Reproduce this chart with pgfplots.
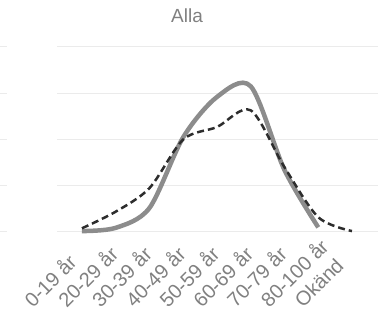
\documentclass[border=0pt]{standalone}
\usepackage{pgfplots}
\pgfplotsset{compat=1.18}
\usepackage{fontspec}
\setmainfont{Liberation Sans}
\definecolor{gridc}{RGB}{235,235,235}
\definecolor{txtc}{RGB}{128,128,128}
\definecolor{solidc}{RGB}{140,140,140}
\definecolor{dashc}{RGB}{45,45,45}
\begin{document}
\begin{tikzpicture}[x=1pt,y=1pt]
\begin{axis}[
  scale only axis, width=321pt, height=185pt,
  xmin=-0.74, xmax=8.77, ymin=0, ymax=4,
  axis line style={draw=none},
  tick style={draw=none},
  ytick={0,1,2,3,4}, yticklabels={},
  ymajorgrids, grid style={gridc, line width=1pt},
  xtick={0,...,8},
  xticklabels={0-19 år,20-29 år,30-39 år,40-49 år,50-59 år,60-69 år,70-79 år,80-100 år,Okänd},
  xticklabel style={xshift=-49pt, yshift=-77pt, rotate=45, anchor=base west, font=\fontsize{20}{20}\selectfont, text=txtc, inner sep=0pt},
  clip=false,
]
\addplot[solidc, line width=4.5pt, smooth, tension=0.5] coordinates {
(0,0.02) (1,0.09) (2,0.52) (3,2.05) (4,2.92) (5,3.15) (6,1.34) (7,0.1)};
\addplot[dashc, line width=2.5pt, dash pattern=on 7pt off 4pt, smooth, tension=0.5] coordinates {
(0,0.08) (1,0.44) (2,0.95) (3,2.0) (4,2.27) (5,2.63) (6,1.4) (7,0.32) (8,0.02)};
\end{axis}
\foreach \yy in {0,46.3,92.5,138.8,185} {\draw[gridc, line width=1pt] (-57,\yy) -- (-50,\yy);}
\node[text=txtc, font=\fontsize{19}{19}\selectfont] at (130,216) {Alla};
\pgfresetboundingbox
\useasboundingbox (-57,-86) rectangle (327,232);
\end{tikzpicture}
\end{document}
